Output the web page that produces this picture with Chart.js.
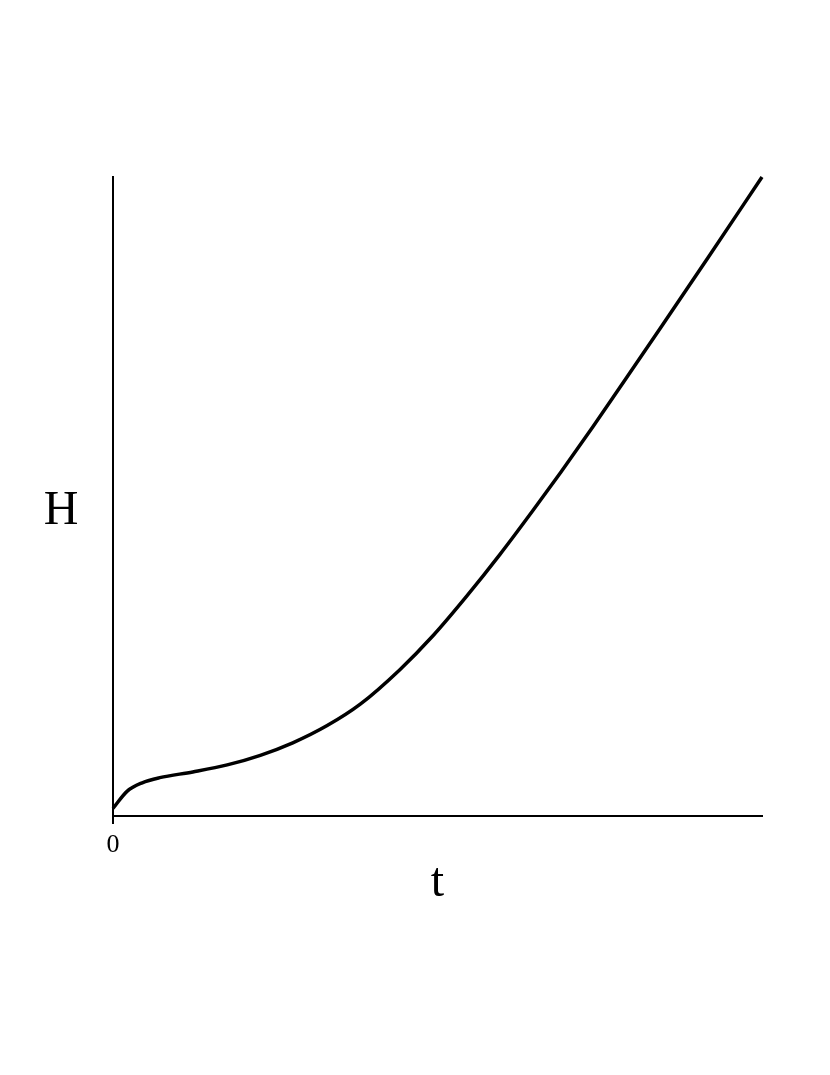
<!DOCTYPE html>
<html>
<head>
<meta charset="utf-8">
<script src="https://cdn.jsdelivr.net/npm/chart.js@4/dist/chart.umd.min.js"></script>
<style>
    html, body { margin: 0; padding: 0; background: #fff; }
    #wrap { width: 830px; height: 1075px; position: relative; }
</style>
</head>
<body>
<div id="wrap"><canvas id="chart"></canvas></div>
<script>
// values (t from 0 to 100, H from 0 to 100)
const tValues = [0, 2.2, 4.5, 7.2, 12.3, 17.6, 22.7, 27.7, 33.0, 38.1, 44.2, 49.3, 54.5, 59.6, 64.7, 69.0, 74.0, 79.2, 84.3, 91.7, 100];
const hValues = [1.2, 3.9, 5.2, 6.0, 6.9, 8.0, 9.5, 11.45, 14.15, 17.5, 22.9, 28.2, 34.4, 40.9, 47.8, 53.8, 61.0, 68.7, 76.3, 87.4, 100];
const xTickValues = [0];
const xLabel = 't';
const yLabel = 'H';

const serif = '"Liberation Serif", "DejaVu Serif", serif';

// "H" sits upright to the left of the axis, so draw it by hand
const yLabelPlugin = {
    id: 'yLabel',
    afterDraw(chart) {
        const { ctx, chartArea } = chart;
        ctx.save();
        ctx.font = '48px ' + serif;
        ctx.fillStyle = '#000';
        ctx.textAlign = 'center';
        ctx.textBaseline = 'middle';
        ctx.fillText(yLabel, chartArea.left - 52, (chartArea.top + chartArea.bottom) / 2 + 15);
        ctx.restore();
    }
};

new Chart(document.getElementById('chart'), {
    type: 'line',
    data: {
        datasets: [{
            data: tValues.map((t, i) => ({ x: t, y: hValues[i] })),
            borderColor: '#000',
            borderWidth: 3.5,
            pointRadius: 0,
            fill: false,
            cubicInterpolationMode: 'monotone',
            clip: false
        }]
    },
    options: {
        responsive: true,
        maintainAspectRatio: false,
        animation: false,
        layout: { padding: { left: 113, right: 68, top: 177, bottom: 159 } },
        plugins: { legend: { display: false }, tooltip: { enabled: false } },
        scales: {
            x: {
                type: 'linear',
                min: 0,
                max: 100,
                afterBuildTicks: (scale) => { scale.ticks = xTickValues.map(v => ({ value: v })); },
                afterFit: (scale) => { scale.height = 100; },
                grid: { drawOnChartArea: false, drawTicks: true, tickLength: 8, color: '#000', lineWidth: 2 },
                border: { color: '#000', width: 2 },
                ticks: { color: '#000', font: { family: serif, size: 26 }, padding: 6 },
                title: { display: true, text: xLabel, color: '#000', font: { family: serif, size: 48 }, padding: { top: 4, bottom: 4 } }
            },
            y: {
                type: 'linear',
                min: 0,
                max: 100,
                afterFit: (scale) => { scale.width = 0; },
                grid: { display: false, drawTicks: false },
                border: { color: '#000', width: 2 },
                ticks: { display: false }
            }
        }
    },
    plugins: [yLabelPlugin]
});
</script>
</body>
</html>
